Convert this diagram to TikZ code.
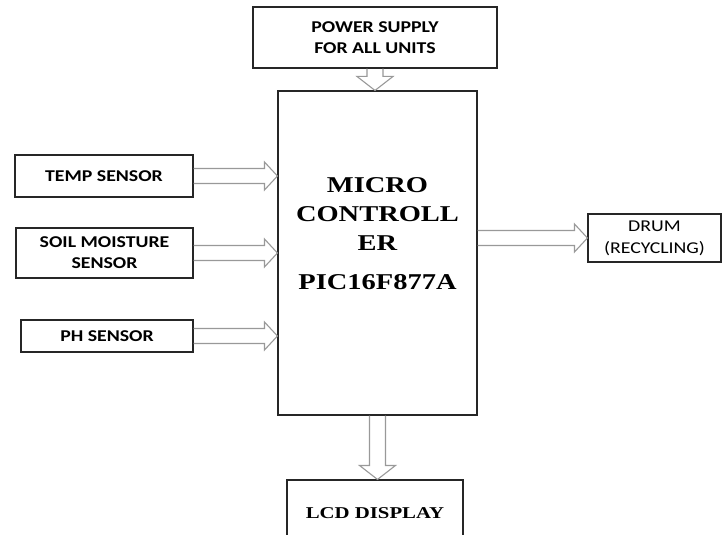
\documentclass[tikz,border=0pt]{standalone}
\usepackage{fontspec}
\usetikzlibrary{calc}
\newfontfamily\sansf[FakeStretch=1.2]{Carlito}
\newfontfamily\seriff[FakeStretch=1.26]{Liberation Serif}
\tikzset{
  box/.style={draw=black!85, line width=1.1pt, fill=white, inner sep=0pt, align=center},
  sanslbl/.style={font=\sansf\bfseries\fontsize{16.5}{21}\selectfont},
  barrow/.style={draw=gray!80, line width=1.1pt, line join=miter},
}
\newcommand\hbarrow[2]{\draw[barrow] ($(#1)+(0,-7.5)$) -- ($(#2)+(-13,-7.5)$) -- ($(#2)+(-13,-14)$) -- (#2) -- ($(#2)+(-13,14)$) -- ($(#2)+(-13,7.5)$) -- ($(#1)+(0,7.5)$);}
\newcommand\vbarrow[2]{\draw[barrow] ($(#1)+(-8,0)$) -- ($(#2)+(-8,-14)$) -- ($(#2)+(-18,-14)$) -- (#2) -- ($(#2)+(18,-14)$) -- ($(#2)+(8,-14)$) -- ($(#1)+(8,0)$);}
\begin{document}
\begin{tikzpicture}[x=1pt,y=-1pt]
\clip (0,0) rectangle (724,535);
\fill[white] (0,0) rectangle (724,535);
% nodes
\node[box, sanslbl, minimum width=244pt, minimum height=61pt] (power) at (375,37.5) {POWER SUPPLY\\FOR ALL UNITS};
\node[box, minimum width=199pt, minimum height=324pt] (mcu) at (377.5,253) {};
\node[align=center, inner sep=0pt, font=\seriff\bfseries\fontsize{22.6}{29}\selectfont] (mcutext) at (377.5,234) {MICRO\\CONTROLL\\ER\\[10pt]PIC16F877A};
\node[box, sanslbl, minimum width=178pt, minimum height=42pt] (temp) at (104,176) {TEMP SENSOR};
\node[box, sanslbl, minimum width=177pt, minimum height=50pt] (soil) at (104.5,253) {SOIL MOISTURE\\SENSOR};
\node[box, sanslbl, minimum width=172pt, minimum height=32pt] (ph) at (107,336) {PH SENSOR};
\node[box, font=\sansf\fontsize{16.5}{22}\selectfont, minimum width=133pt, minimum height=48pt] (drum) at (654.5,238) {DRUM\\(RECYCLING)};
\node[box, font=\seriff\bfseries\fontsize{16.5}{20}\selectfont, minimum width=176pt, minimum height=66pt, text depth=0pt] (lcd) at (375,513) {};
\node[inner sep=0pt, font=\seriff\bfseries\fontsize{16.5}{20}\selectfont] (lcdtext) at (375,513) {LCD DISPLAY};
% arrows
\vbarrow{power.south}{power.south |- mcu.north}
\hbarrow{temp.east}{temp.east -| mcu.west}
\hbarrow{soil.east}{soil.east -| mcu.west}
\hbarrow{ph.east}{ph.east -| mcu.west}
\hbarrow{mcu.east |- drum.west}{drum.west}
\vbarrow{mcu.south}{mcu.south |- lcd.north}
\end{tikzpicture}
\end{document}
